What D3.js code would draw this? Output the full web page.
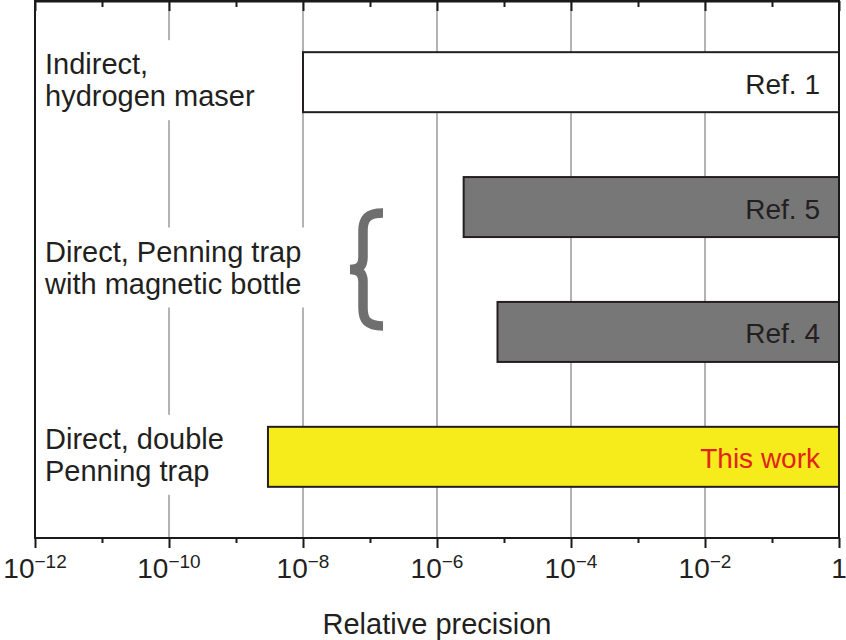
<!DOCTYPE html>
<html>
<head>
<meta charset="utf-8">
<script src="https://cdn.jsdelivr.net/npm/d3@7"></script>
<style>
  body { margin: 0; background: #ffffff; }
  text { font-family: "Liberation Sans", Arial, Helvetica, sans-serif; fill: #231f20; }
</style>
</head>
<body>
<div id="chart"></div>
<script>
var width = 846,
    height = 640;
var margin = {top: 1, right: 7, bottom: 102, left: 35};
var plotW = width - margin.left - margin.right,
    plotH = height - margin.top - margin.bottom;

// data
var refs = ["Ref. 1", "Ref. 5", "Ref. 4", "This work"];
var lowerBound = [1e-8, 2.5e-6, 8e-6, 3e-9];
var upperBound = [1, 1, 1, 1];
var barColors = ["#ffffff", "#777778", "#777778", "#f6eb1b"];
var refColors = ["#231f20", "#231f20", "#231f20", "#e2231a"];

var methodLines = [
    ["Indirect,", "hydrogen maser"],
    ["Direct, Penning trap", "with magnetic bottle"],
    ["Direct, double", "Penning trap"]
];
var methodRefs = [["Ref. 1"], ["Ref. 5", "Ref. 4"], ["This work"]];

var majorTicks = [1e-12, 1e-10, 1e-8, 1e-6, 1e-4, 1e-2, 1];
var minorTicks = [1e-11, 1e-9, 1e-7, 1e-5, 1e-3, 1e-1];
var tickBase = ["10", "10", "10", "10", "10", "10", "1"];
var tickExp = ["\u221212", "\u221210", "\u22128", "\u22126", "\u22124", "\u22122", ""];

var bars = refs.map(function(r, i) {
    return {ref: r, lo: lowerBound[i], hi: upperBound[i], fill: barColors[i], color: refColors[i]};
});

var svg = d3.select("#chart").append("svg")
    .attr("width", width)
    .attr("height", height)
    .append("g")
    .attr("transform", "translate(" + margin.left + "," + margin.top + ")");

var x = d3.scaleLog().domain([1e-12, 1]).range([0, plotW]);
var y = d3.scalePoint().domain(refs).range([0, plotH]).padding(0.65);
var barH = 60;

// gridlines
svg.append("g").selectAll("line")
    .data(majorTicks.slice(1, -1))
    .enter().append("line")
    .attr("x1", function(d) { return x(d); })
    .attr("x2", function(d) { return x(d); })
    .attr("y1", 0)
    .attr("y2", plotH)
    .attr("stroke", "#8a8a8a")
    .attr("stroke-width", 1.3);

// method labels with white backing
var methods = svg.append("g").selectAll("g")
    .data(methodLines)
    .enter().append("g");

methods.each(function(lines, i) {
    var g = d3.select(this);
    var cy = d3.mean(methodRefs[i], function(r) { return y(r); });
    var bg = g.append("rect").attr("fill", "#ffffff");
    var t = g.append("text")
        .attr("x", 10)
        .style("font-size", "29px");
    lines.forEach(function(l, k) {
        t.append("tspan")
            .attr("x", 10)
            .attr("y", cy - 8 + k * 32)
            .text(l);
    });
    var bb = t.node().getBBox();
    bg.attr("x", bb.x - 6)
        .attr("y", cy - 8 - 34)
        .attr("width", bb.width + 12)
        .attr("height", 32 + 34 + 14);
});

// bars
var barG = svg.append("g").selectAll("g")
    .data(bars)
    .enter().append("g");

barG.append("rect")
    .attr("x", function(d) { return x(d.lo); })
    .attr("y", function(d) { return y(d.ref) - barH / 2; })
    .attr("width", function(d) { return x(d.hi) - x(d.lo); })
    .attr("height", barH)
    .attr("fill", function(d) { return d.fill; })
    .attr("stroke", "#231f20")
    .attr("stroke-width", 2);

barG.append("text")
    .attr("x", function(d) { return x(d.hi) - 19; })
    .attr("y", function(d) { return y(d.ref) + 11.5; })
    .attr("text-anchor", "end")
    .style("font-size", "28px")
    .style("fill", function(d) { return d.color; })
    .text(function(d) { return d.ref; });

// brace grouping the two magnetic-bottle results
var bTop = y("Ref. 5") + 6,
    bBot = y("Ref. 4") - 6,
    bMid = (bTop + bBot) / 2,
    bx = x(1e-7) - 7;
svg.append("path")
    .attr("d",
        "M" + (bx + 20) + "," + bTop +
        "C" + (bx + 4) + "," + bTop + " " + bx + "," + (bTop + 6) + " " + bx + "," + (bTop + 18) +
        "L" + bx + "," + (bMid - 12) +
        "C" + bx + "," + (bMid - 4) + " " + (bx - 4) + "," + bMid + " " + (bx - 13) + "," + bMid +
        "C" + (bx - 4) + "," + bMid + " " + bx + "," + (bMid + 4) + " " + bx + "," + (bMid + 12) +
        "L" + bx + "," + (bBot - 18) +
        "C" + bx + "," + (bBot - 6) + " " + (bx + 4) + "," + bBot + " " + (bx + 20) + "," + bBot)
    .attr("fill", "none")
    .attr("stroke", "#6f6f70")
    .attr("stroke-width", 9.5);

// frame
svg.append("rect")
    .attr("x", 0)
    .attr("y", 0)
    .attr("width", plotW)
    .attr("height", plotH)
    .attr("fill", "none")
    .attr("stroke", "#1a1a1a")
    .attr("stroke-width", 2);
svg.append("line")
    .attr("x1", 0).attr("x2", plotW)
    .attr("y1", 0).attr("y2", 0)
    .attr("stroke", "#1a1a1a")
    .attr("stroke-width", 3);

// axes
var bottomMajor = svg.append("g")
    .attr("transform", "translate(0," + plotH + ")")
    .call(d3.axisBottom(x).tickValues(majorTicks).tickSize(10).tickFormat(""));
var bottomMinor = svg.append("g")
    .attr("transform", "translate(0," + plotH + ")")
    .call(d3.axisBottom(x).tickValues(minorTicks).tickSize(5).tickFormat(""));
var topMajor = svg.append("g")
    .call(d3.axisBottom(x).tickValues(majorTicks).tickSize(10).tickFormat(""));
var topMinor = svg.append("g")
    .call(d3.axisBottom(x).tickValues(minorTicks).tickSize(6).tickFormat(""));

[bottomMajor, bottomMinor, topMajor, topMinor].forEach(function(a) {
    a.select(".domain").remove();
    a.selectAll(".tick line").attr("stroke", "#1a1a1a").attr("stroke-width", 2);
});

var lbl = svg.append("g").selectAll("text")
    .data(majorTicks)
    .enter().append("text")
    .attr("x", function(d) { return x(d); })
    .attr("y", plotH + 40)
    .attr("text-anchor", "middle")
    .style("font-size", "28px");
lbl.append("tspan")
    .text(function(d, i) { return tickBase[i]; });
lbl.append("tspan")
    .attr("dy", -10)
    .style("font-size", "19px")
    .text(function(d, i) { return tickExp[i]; });

svg.append("text")
    .attr("x", plotW / 2)
    .attr("y", plotH + 96)
    .attr("text-anchor", "middle")
    .style("font-size", "29px")
    .text("Relative precision");
</script>
</body>
</html>
